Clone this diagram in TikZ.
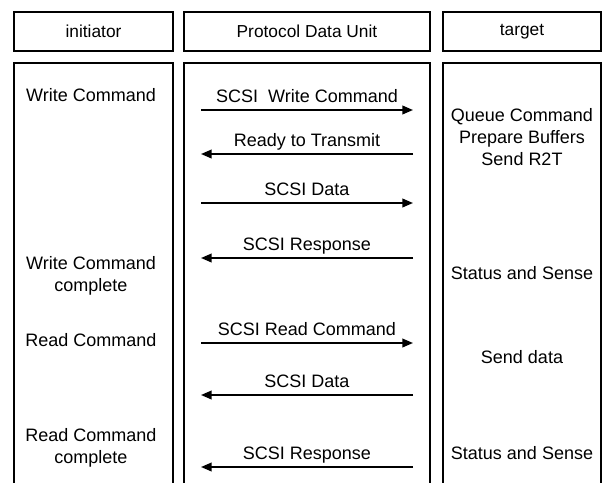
\documentclass[tikz,border=0pt]{standalone}
\usepackage{fontspec}
\setmainfont{Liberation Sans}
\usetikzlibrary{arrows.meta,calc}
\begin{document}
\begin{tikzpicture}[x=0.75pt,y=-0.75pt,
  frame/.style={draw=black,line width=1pt},
  lbl/.style={font=\fontsize{13.5}{16.5}\selectfont,align=center,inner sep=0pt},
  hdr/.style={font=\fontsize{13}{16}\selectfont,inner sep=0pt},
  msg/.style={line width=1.3pt,-{Triangle[length=8pt,width=6.5pt]}},
  ]
\useasboundingbox (0,0) rectangle (603,482);

% column headers
\draw[frame] (14,12) rectangle (173,51);
\draw[frame] (184,12) rectangle (430,51);
\draw[frame] (443,12) rectangle (601,51);
\node[hdr] (hinit) at (93.5,31.5) {initiator};
\node[hdr] (hpdu)  at (307,31.5) {Protocol Data Unit};
\node[hdr] (htgt)  at (522,31.5) {target};

% column bodies, open at the bottom
\draw[frame] (14,483) -- (14,63) -- (173,63) -- (173,483);
\draw[frame] (184,483) -- (184,63) -- (430,63) -- (430,483);
\draw[frame] (443,483) -- (443,63) -- (601,63) -- (601,483);

% initiator events
\node[lbl] (i1) at (91,95)  {Write Command};
\node[lbl] (i2) at (91,276) {Write Command\\complete};
\node[lbl] (i3) at (91,340) {Read Command};
\node[lbl] (i4) at (91,448) {Read Command\\complete};

% target events
\node[lbl] (t1) at (522,137.5) {Queue Command\\Prepare Buffers\\Send R2T};
\node[lbl] (t2) at (522,273) {Status and Sense};
\node[lbl] (t3) at (522,357) {Send data};
\node[lbl] (t4) at (522,453) {Status and Sense};

% message end points (L = initiator side, R = target side)
\foreach \k/\y in {1/110,2/154,3/203,4/258,5/343,6/395,7/467}{
  \coordinate (L\k) at (201,\y);
  \coordinate (R\k) at (413,\y);
}

% PDUs
\draw[msg] (L1) -- (R1);
\draw[msg] (R2) -- (L2);
\draw[msg] (L3) -- (R3);
\draw[msg] (R4) -- (L4);
\draw[msg] (L5) -- (R5);
\draw[msg] (R6) -- (L6);
\draw[msg] (R7) -- (L7);

% PDU names, set just above each line
\node[lbl,anchor=base] (m1) at ($(L1)!0.5!(R1)+(0,-8)$) {SCSI\ \ Write Command};
\node[lbl,anchor=base] (m2) at ($(L2)!0.5!(R2)+(0,-8)$) {Ready to Transmit};
\node[lbl,anchor=base] (m3) at ($(L3)!0.5!(R3)+(0,-8)$) {SCSI Data};
\node[lbl,anchor=base] (m4) at ($(L4)!0.5!(R4)+(0,-8)$) {SCSI Response};
\node[lbl,anchor=base] (m5) at ($(L5)!0.5!(R5)+(0,-8)$) {SCSI Read Command};
\node[lbl,anchor=base] (m6) at ($(L6)!0.5!(R6)+(0,-8)$) {SCSI Data};
\node[lbl,anchor=base] (m7) at ($(L7)!0.5!(R7)+(0,-8)$) {SCSI Response};
\end{tikzpicture}
\end{document}
